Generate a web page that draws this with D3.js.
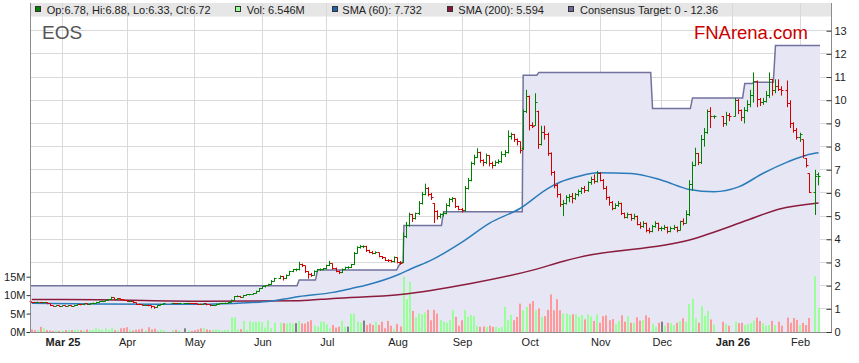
<!DOCTYPE html>
<html>
<head>
<meta charset="utf-8">
<script src="https://cdn.jsdelivr.net/npm/d3@7"></script>
<style>
  body { margin: 0; background: #fff; }
  svg { display: block; font-family: 'Liberation Sans', Arial, sans-serif; }
</style>
</head>
<body>
<script>
// Daily bars, one slot per weekday from 17 Feb 2025 to 10 Feb 2026 (null = market closed)
const opens = [
  1.30,1.28,1.27,1.29,1.26,1.27,1.22,1.14,1.12,1.13, 1.10,1.13,1.12,1.14,1.12,1.15,1.18,1.17,1.21,1.19,
  1.22,1.25,1.28,1.30,1.33,1.36,1.40,1.47,1.42,1.44, 1.40,1.36,1.32,1.33,1.26,1.20,1.18,1.15,1.16,1.13,
  1.08,1.06,1.15,1.18,null,null,1.22,1.24,1.22,null, 1.23,1.23,1.24,1.23,1.21,1.20,1.19,1.21,1.17,1.13,
  1.15,1.20,1.22,1.24,1.25,1.27,1.38,1.52,1.55,1.50, 1.58,1.60,1.62,1.66,1.75,1.88,1.95,2.00,2.05,2.20,
  null,2.30,2.40,2.30,2.45,2.60,2.68,2.68,2.90,2.85, 2.60,2.50,2.45,2.62,2.68,2.70,2.72,2.85,2.95,2.75,
  2.62,2.55,2.70,2.78,2.78,2.90,3.40,3.65,3.70,3.70, 3.50,3.45,3.40,3.42,3.25,3.20,3.10,3.08,3.05,3.20,
  3.00,3.00,4.10,4.60,5.05,4.90,5.10,5.55,5.95,6.20, 5.95,5.55,5.20,5.00,5.05,5.10,5.45,5.70,5.75,5.40,
  5.30,5.25,6.20,6.55,7.25,7.55,7.75,7.40,7.30,7.60, 7.25,7.20,7.30,7.35,7.65,7.75,8.45,8.50,8.30,8.20,
  7.90,9.50,10.15,8.90,8.90,9.50,8.10,8.60,8.50,7.70, 6.90,6.30,5.95,5.50,5.55,5.80,5.85,5.75,5.95,6.05,
  6.20,6.10,6.45,6.60,6.50,6.85,6.55,6.20,5.80,5.60, 5.35,5.45,5.55,5.10,4.95,5.05,4.90,5.00,4.65,4.55,
  4.70,4.40,4.35,4.55,4.70,4.45,4.45,4.50,4.35,4.45, 4.50,4.40,4.75,4.70,5.05,6.35,7.20,7.70,7.30,8.30,
  8.60,9.50,9.28,null,null,9.30,9.00,9.35,null,9.30, 10.00,9.55,9.25,9.55,9.80,10.20,10.80,10.05,9.90,9.95,
  10.20,10.90,10.40,10.60,10.45,null,10.40,9.85,9.00,8.70, 8.40,8.30,7.50,6.85,null,6.00,6.78
]
const highs = [
  1.31,1.30,1.31,1.30,1.29,1.27,1.22,1.15,1.15,1.14, 1.14,1.14,1.16,1.15,1.17,1.20,1.19,1.23,1.22,1.24,
  1.27,1.30,1.32,1.35,1.38,1.42,1.52,1.48,1.46,1.45, 1.41,1.37,1.35,1.33,1.27,1.22,1.19,1.18,1.17,1.14,
  1.10,1.16,1.20,1.24,null,null,1.26,1.25,1.25,null, 1.25,1.26,1.25,1.24,1.23,1.22,1.23,1.22,1.18,1.17,
  1.22,1.24,1.26,1.27,1.29,1.40,1.55,1.58,1.56,1.60, 1.62,1.64,1.68,1.78,1.90,1.98,2.02,2.08,2.24,2.34,
  null,2.44,2.42,2.48,2.64,2.72,2.74,3.03,2.95,2.86, 2.62,2.55,2.66,2.72,2.74,2.76,2.90,3.07,2.96,2.78,
  2.65,2.74,2.82,2.84,2.94,3.45,3.70,3.75,3.74,3.72, 3.55,3.50,3.48,3.43,3.28,3.22,3.14,3.12,3.26,3.22,
  3.06,4.30,4.75,5.15,5.10,5.15,5.65,6.05,6.40,6.25, 6.00,5.56,5.25,5.12,5.20,5.55,5.78,5.82,5.76,5.45,
  5.35,6.30,6.65,7.35,7.65,7.93,7.78,7.45,7.70,7.62, 7.35,7.40,7.45,7.80,7.85,8.70,8.60,8.55,8.35,8.22,
  9.60,10.45,10.20,9.05,10.30,9.55,8.90,8.90,8.60,7.75, 6.95,6.40,5.98,5.70,5.90,5.95,6.00,6.00,6.15,6.25,
  6.30,6.50,6.70,6.80,6.95,6.90,6.60,6.30,5.85,5.65, 5.55,5.65,5.58,5.15,5.15,5.10,5.10,5.02,4.75,4.78,
  4.72,4.50,4.62,4.78,4.72,4.55,4.62,4.55,4.55,4.62, 4.55,4.80,4.90,5.25,6.55,7.35,7.95,7.72,8.50,8.80,
  9.60,9.70,9.35,null,null,9.32,9.50,9.45,null,10.10, 10.05,9.60,9.70,10.00,10.45,11.20,10.85,10.10,10.10,10.40,
  11.20,10.92,10.90,10.90,10.60,null,10.85,10.00,9.05,8.80, 8.60,8.30,7.50,6.85,null,7.00,6.88
]
const lows = [
  1.26,1.25,1.26,1.24,1.25,1.20,1.12,1.10,1.11,1.08, 1.09,1.10,1.11,1.10,1.12,1.14,1.15,1.16,1.17,1.18,
  1.21,1.24,1.26,1.29,1.32,1.35,1.39,1.40,1.40,1.38, 1.34,1.30,1.30,1.24,1.18,1.16,1.13,1.14,1.11,1.02,
  1.00,1.05,1.14,1.17,null,null,1.21,1.20,1.21,null, 1.21,1.22,1.21,1.19,1.18,1.17,1.18,1.15,1.11,1.12,
  1.14,1.19,1.21,1.22,1.24,1.27,1.37,1.50,1.48,1.49, 1.56,1.58,1.61,1.65,1.74,1.86,1.92,1.98,2.04,2.18,
  null,2.28,2.22,2.28,2.44,2.58,2.62,2.66,2.80,2.55, 2.30,2.38,2.44,2.60,2.64,2.66,2.70,2.84,2.70,2.58,
  2.50,2.54,2.68,2.72,2.76,2.90,3.38,3.60,3.62,3.45, 3.40,3.35,3.36,3.22,3.15,3.06,3.02,3.00,3.00,2.96,
  2.90,2.98,4.05,4.55,4.75,4.85,5.05,5.50,5.90,5.85, 5.70,4.70,4.85,4.90,4.98,5.08,5.40,5.60,5.35,5.25,
  5.15,5.20,6.15,6.50,7.20,7.50,7.30,7.15,7.25,7.15, 7.05,7.15,7.25,7.30,7.55,7.70,8.30,8.20,8.05,7.70,
  7.85,9.45,8.70,8.80,8.90,7.90,8.05,8.30,7.60,6.75, 6.20,5.80,5.40,5.00,5.50,5.60,5.55,5.70,5.85,5.95,
  6.00,6.05,6.35,6.40,6.45,6.50,6.15,5.70,5.45,5.25, 5.30,5.40,5.05,4.90,4.90,4.80,4.85,4.60,4.45,4.50,
  4.30,4.25,4.30,4.50,4.35,4.35,4.40,4.25,4.30,4.40, 4.30,4.38,4.60,4.68,5.00,6.10,7.15,7.20,7.25,8.00,
  8.55,8.80,9.20,null,null,8.85,8.90,9.10,null,9.30, 9.40,9.10,9.00,9.50,9.70,9.90,9.70,9.75,9.80,9.90,
  10.10,10.20,10.30,10.40,10.20,null,9.70,8.80,8.60,8.30, 8.20,7.50,7.10,6.00,null,5.05,6.33
]
const closes = [
  1.28,1.27,1.29,1.26,1.27,1.22,1.14,1.12,1.13,1.10, 1.13,1.12,1.14,1.12,1.15,1.18,1.17,1.21,1.19,1.22,
  1.25,1.28,1.30,1.33,1.36,1.40,1.47,1.42,1.44,1.40, 1.36,1.32,1.33,1.26,1.20,1.18,1.15,1.16,1.13,1.08,
  1.06,1.15,1.18,1.22,null,null,1.24,1.22,1.23,null, 1.23,1.24,1.23,1.21,1.20,1.19,1.21,1.17,1.13,1.15,
  1.20,1.22,1.24,1.25,1.27,1.38,1.52,1.55,1.50,1.58, 1.60,1.62,1.66,1.75,1.88,1.95,2.00,2.05,2.20,2.30,
  null,2.40,2.30,2.45,2.60,2.68,2.68,2.90,2.85,2.60, 2.50,2.45,2.62,2.68,2.70,2.72,2.85,2.95,2.75,2.62,
  2.55,2.70,2.78,2.78,2.90,3.40,3.65,3.70,3.70,3.50, 3.45,3.40,3.42,3.25,3.20,3.10,3.08,3.05,3.20,3.00,
  2.95,4.10,4.60,5.05,4.90,5.10,5.55,5.95,6.20,5.95, 5.80,5.20,5.00,5.05,5.10,5.45,5.70,5.75,5.40,5.30,
  5.25,6.20,6.55,7.25,7.55,7.75,7.40,7.30,7.60,7.25, 7.20,7.30,7.35,7.65,7.75,8.45,8.50,8.30,8.20,7.85,
  9.50,10.15,8.90,8.88,9.90,8.10,8.60,8.50,7.70,6.90, 6.30,5.95,5.50,5.55,5.80,5.85,5.75,5.95,6.05,6.20,
  6.10,6.45,6.60,6.50,6.85,6.55,6.20,5.80,5.60,5.35, 5.45,5.55,5.10,4.95,5.05,4.90,5.00,4.65,4.55,4.70,
  4.40,4.35,4.55,4.70,4.45,4.45,4.50,4.35,4.45,4.50, 4.40,4.75,4.70,5.05,6.35,7.20,7.70,7.30,8.30,8.60,
  9.50,9.28,9.30,null,null,9.00,9.35,9.30,null,10.00, 9.55,9.25,9.55,9.80,10.20,10.80,10.05,9.90,9.95,10.20,
  10.90,10.40,10.60,10.45,10.40,null,9.85,9.00,8.70,8.40, 8.50,7.60,7.20,6.00,null,6.70,6.72
]
// Volume in millions
const volumes = [
  0.7,0.5,0.5,1.4,1.0,0.5,0.4,0.3,0.5,0.3, 0.4,0.5,0.6,0.5,0.6,0.6,0.5,0.4,0.7,0.5,
  0.6,1.0,0.8,0.6,1.0,0.6,1.2,0.5,0.4,1.0, 1.1,1.3,0.6,0.4,0.6,0.7,0.9,0.5,1.3,0.7,
  0.9,0.4,0.6,0.5,null,null,0.5,0.6,0.4,null, 1.0,0.4,0.3,0.5,0.7,1.0,1.1,0.7,0.5,0.6,
  0.7,0.6,0.4,0.5,0.6,4.0,3.9,0.7,0.8,3.0, 0.5,2.9,2.6,2.8,2.8,2.7,1.2,3.2,1.0,2.5,
  null,2.5,2.4,2.3,2.5,2.2,2.4,3.0,2.3,2.3, 2.8,3.2,1.7,1.45,2.8,2.8,2.1,1.0,1.9,1.2,
  1.45,3.0,1.45,1.45,4.9,5.0,2.8,2.5,3.1,1.9, 2.3,1.9,2.8,1.9,2.8,1.0,3.0,1.7,0.8,2.2,
  1.5,15.0,8.9,13.6,5.7,4.0,5.0,4.8,5.3,6.0, 3.2,6.0,5.0,3.2,2.8,2.5,3.2,5.9,4.1,1.7,
  3.2,5.9,4.1,4.6,4.3,1.7,1.4,1.5,1.4,1.7, 1.4,1.4,1.0,1.4,6.8,3.2,4.6,3.2,4.1,7.7,
  5.9,6.8,7.7,8.4,5.9,6.4,4.1,4.3,6.0,10.2, 5.9,8.9,5.9,5.0,5.0,4.6,4.8,4.8,4.1,4.6,
  3.4,4.8,4.2,3.0,4.8,2.5,4.3,4.5,3.2,3.5, 2.2,3.0,4.5,2.8,4.3,2.5,2.5,4.0,3.1,3.2,
  4.5,3.9,2.2,1.45,2.5,2.8,1.7,2.5,2.4,1.9, 2.5,3.0,3.7,2.8,7.6,9.0,3.7,2.5,7.0,4.4,
  5.7,3.4,2.0,null,null,2.8,2.2,1.7,null,2.8, 2.4,2.5,1.9,2.2,2.4,3.1,3.9,3.0,2.4,1.7,
  1.9,3.0,1.9,2.8,1.7,null,3.9,2.5,3.8,3.3, 1.9,2.5,1.9,3.8,null,15.1,6.546
]

// Moving averages read at a few slots
const sma60Slots = [0, 22, 55, 65, 78, 82, 87, 98, 104, 109, 119, 124, 130, 140, 149, 159, 168, 172, 178, 184, 195, 205, 214, 222, 230, 238, 246, 252, 256]
const sma60 = [1.24, 1.21, 1.20, 1.23, 1.34, 1.42, 1.53, 1.71, 1.88, 2.03, 2.46, 2.76, 3.10, 3.88, 4.70, 5.34, 6.20, 6.47, 6.72, 6.87, 6.84, 6.55, 6.15, 6.05, 6.26, 6.85, 7.34, 7.63, 7.73]
const sma200Slots = [0, 22, 55, 87, 98, 120, 142, 163, 173, 178, 214, 233, 243, 256]
const sma200 = [1.40, 1.39, 1.33, 1.35, 1.45, 1.62, 2.07, 2.67, 3.05, 3.22, 3.97, 4.83, 5.30, 5.57]

// Consensus target steps
const targetSlots = [-0.3, 86.3, 87, 92.3, 93, 118.7, 120, 120.8, 121.1, 133.3, 134, 159.6, 159.9, 164.3, 165, 201.4, 202, 214.3, 215, 231.3, 232, 234.4, 235, 241.3, 242, 256.5]
const targetValues = [2.0, 2.0, 2.24, 2.24, 2.67, 2.67, 3.0, 3.0, 4.6, 4.6, 5.19, 5.19, 11.08, 11.08, 11.2, 11.2, 9.64, 9.64, 10.1, 10.1, 10.72, 10.72, 10.78, 10.78, 12.36, 12.36]

// Axis ticks
const monthSlots = [10, 31, 53, 75, 96, 119, 140, 162, 185, 205, 228, 250]
const monthLabels = ['Mar 25', 'Apr', 'May', 'Jun', 'Jul', 'Aug', 'Sep', 'Oct', 'Nov', 'Dec', 'Jan 26', 'Feb']
const priceTicks = [0, 1, 2, 3, 4, 5, 6, 7, 8, 9, 10, 11, 12, 13]
const volumeTicks = [0, 5, 10, 15]

// Chart settings
const width = 859
const height = 363
const plotLeft = 31
const plotRight = 832
const plotTop = 3
const plotBottom = 332

const upColor = '#008000'
const downColor = '#d40000'
const volUp = '#99ff99'
const volDown = '#ff9999'
const volFlat = '#808080'
const fillColor = '#e6e6f5'
const targetColor = '#72729e'
const sma60Color = '#2b7bba'
const sma200Color = '#8b1c3c'
const gridColor = '#d9d9d9'

const svg = d3.select('body').append('svg')
  .attr('width', width)
  .attr('height', height)

// Scales
const x = d3.scaleLinear().domain([0, closes.length - 1]).range([31.8, 818.5])
const y = d3.scaleLinear().domain([0, 13]).range([plotBottom, 30.7])
const yVol = d3.scaleLinear().domain([0, 15]).range([plotBottom, 276.7])
const crisp = v => Math.floor(v) + 0.5

// Legend band
svg.append('rect')
  .attr('x', plotLeft)
  .attr('y', plotTop)
  .attr('width', plotRight - plotLeft)
  .attr('height', 13.5)
  .attr('fill', '#e6e6e6')

// Grid
svg.append('g').selectAll('line')
  .data(priceTicks.filter(d => d > 0))
  .join('line')
  .attr('x1', plotLeft).attr('x2', plotRight)
  .attr('y1', d => crisp(y(d))).attr('y2', d => crisp(y(d)))
  .attr('stroke', gridColor)
svg.append('g').selectAll('line')
  .data(monthSlots)
  .join('line')
  .attr('x1', d => crisp(x(d))).attr('x2', d => crisp(x(d)))
  .attr('y1', plotTop).attr('y2', plotBottom)
  .attr('stroke', gridColor)

// Consensus target area + line
const targetPts = targetSlots.map((s, i) => [s, targetValues[i]])
svg.append('path')
  .datum(targetPts)
  .attr('fill', fillColor)
  .attr('d', d3.area().x(d => x(d[0])).y0(plotBottom).y1(d => y(d[1])))
svg.append('path')
  .datum(targetPts)
  .attr('fill', 'none')
  .attr('stroke', targetColor)
  .attr('stroke-width', 1.5)
  .attr('d', d3.line().x(d => x(d[0])).y(d => y(d[1])))

// Direction of each day vs the previous close
const bars = []
let prev = null
closes.forEach((c, i) => {
  if (c === null) return
  const ref = prev === null ? opens[i] : prev
  bars.push({ i, o: opens[i], h: highs[i], l: lows[i], c, v: volumes[i], dir: c > ref ? 1 : c < ref ? -1 : 0 })
  prev = c
})

// Volume bars
svg.append('g').selectAll('rect')
  .data(bars)
  .join('rect')
  .attr('x', d => Math.round(x(d.i)) - 1)
  .attr('width', 2)
  .attr('y', d => yVol(d.v))
  .attr('height', d => plotBottom - yVol(d.v))
  .attr('fill', d => d.dir > 0 ? volUp : d.dir < 0 ? volDown : volFlat)

// Moving averages
const smaLine = d3.line().curve(d3.curveMonotoneX).x(d => x(d[0])).y(d => y(d[1]))
svg.append('path')
  .datum(sma200Slots.map((s, i) => [s, sma200[i]]))
  .attr('fill', 'none').attr('stroke', sma200Color).attr('stroke-width', 1.5)
  .attr('d', smaLine)
svg.append('path')
  .datum(sma60Slots.map((s, i) => [s, sma60[i]]))
  .attr('fill', 'none').attr('stroke', sma60Color).attr('stroke-width', 1.5)
  .attr('d', smaLine)

// OHLC bars
svg.append('g').selectAll('path')
  .data(bars)
  .join('path')
  .attr('fill', 'none')
  .attr('stroke', d => d.dir < 0 ? downColor : upColor)
  .attr('stroke-width', 1)
  .attr('d', d => {
    const cx = crisp(x(d.i))
    const yo = crisp(y(d.o))
    const yc = crisp(y(d.c))
    return `M${cx},${y(d.h)}V${y(d.l)}M${cx - 2},${yo}H${cx}M${cx},${yc}H${cx + 2}`
  })

// Frame lines
svg.append('line').attr('x1', plotLeft - 0.5).attr('x2', plotLeft - 0.5).attr('y1', plotTop).attr('y2', plotBottom)
  .attr('stroke', '#8c8c8c')
svg.append('line').attr('x1', plotRight - 0.5).attr('x2', plotRight - 0.5).attr('y1', plotTop).attr('y2', plotBottom)
  .attr('stroke', '#8c8c8c')
svg.append('line').attr('x1', plotLeft).attr('x2', plotRight).attr('y1', plotBottom + 0.5).attr('y2', plotBottom + 0.5)
  .attr('stroke', '#8c8c8c')

// Right price axis
const rightAxis = svg.append('g')
  .attr('transform', `translate(${plotRight - 0.5},0)`)
  .call(d3.axisRight(y).tickValues(priceTicks).tickSizeInner(-5).tickSizeOuter(0).tickPadding(3))
rightAxis.select('.domain').remove()

// Left volume axis
const leftAxis = svg.append('g')
  .attr('transform', `translate(${plotLeft - 0.5},0)`)
  .call(d3.axisLeft(yVol).tickValues(volumeTicks).tickFormat(d => d + 'M').tickSize(4).tickPadding(1))
leftAxis.select('.domain').remove()

// Bottom month axis
const bottomAxis = svg.append('g')
  .attr('transform', `translate(0,${plotBottom})`)
  .call(d3.axisBottom(x).tickValues(monthSlots).tickFormat((d, i) => monthLabels[i]).tickSize(0).tickPadding(6))
bottomAxis.select('.domain').remove()
bottomAxis.selectAll('text')
  .style('font-weight', (d, i) => monthLabels[i].includes(' ') ? 'bold' : 'normal')

svg.selectAll('.tick text')
  .attr('fill', '#222')
  .style('font-size', '11px')
  .style('font-family', "'Liberation Sans', Arial, sans-serif")
svg.selectAll('.tick line').attr('stroke', '#333')

// Legend
const last = bars[bars.length - 1]
const legendItems = [
  { sx: 35, tx: 46.7, color: upColor, text: `Op:${last.o.toFixed(2)}, Hi:${last.h.toFixed(2)}, Lo:${last.l.toFixed(2)}, Cl:${last.c.toFixed(2)}` },
  { sx: 235, tx: 246.7, color: volUp, text: `Vol: ${last.v.toFixed(3)}M` },
  { sx: 331.7, tx: 342.3, color: '#1f64a8', text: `SMA (60): 7.732` },
  { sx: 446.7, tx: 458.3, color: '#8a1538', text: `SMA (200): 5.594` },
  { sx: 568.3, tx: 580, color: '#6a6a9e', text: `Consensus Target: 0 - ${d3.max(targetValues).toFixed(2)}` }
]
const legend = svg.append('g').attr('id', 'legend')
legend.selectAll('rect')
  .data(legendItems)
  .join('rect')
  .attr('x', d => Math.round(d.sx) + 0.5)
  .attr('y', 6.5)
  .attr('width', 5)
  .attr('height', 5)
  .attr('fill', d => d.color)
  .attr('stroke', '#333')
legend.selectAll('text')
  .data(legendItems)
  .join('text')
  .attr('x', d => d.tx)
  .attr('y', 14.3)
  .attr('fill', '#222')
  .style('font-size', '11px')
  .text(d => d.text)

// Titles
svg.append('text')
  .attr('x', 42)
  .attr('y', 39)
  .attr('fill', '#555')
  .style('font-size', '19px')
  .text('EOS')
svg.append('text')
  .attr('x', 808)
  .attr('y', 39)
  .attr('fill', '#cc0000')
  .style('font-size', '18.5px')
  .style('text-anchor', 'end')
  .text('FNArena.com')
</script>
</body>
</html>
